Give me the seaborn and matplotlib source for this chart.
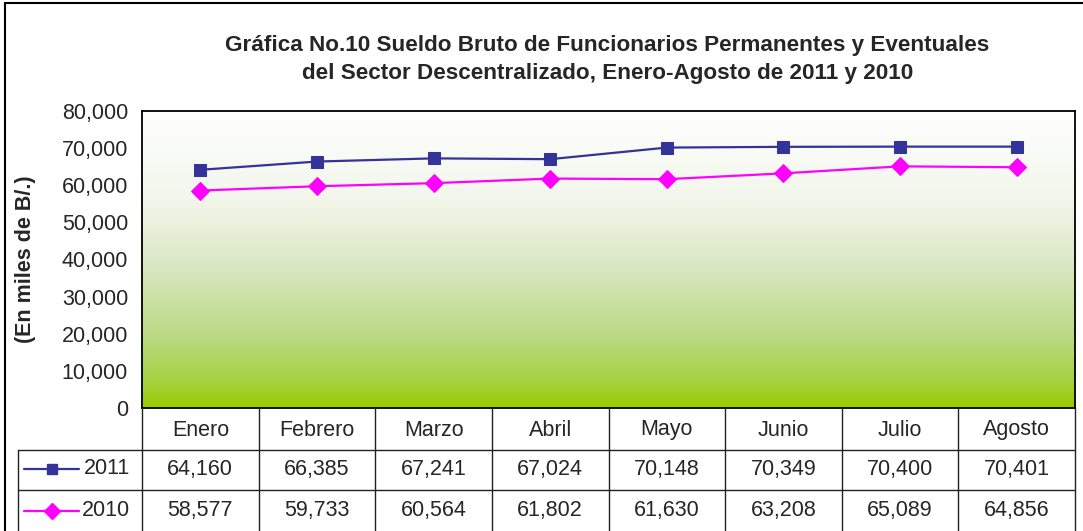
import numpy as np
import matplotlib
matplotlib.use("Agg")
import matplotlib.pyplot as plt
from matplotlib.colors import LinearSegmentedColormap
from matplotlib.lines import Line2D
from matplotlib.patches import Rectangle
import seaborn as sns

meses = ["Enero", "Febrero", "Marzo", "Abril", "Mayo", "Junio", "Julio", "Agosto"]
sueldo_2011 = [64160, 66385, 67241, 67024, 70148, 70349, 70400, 70401]
sueldo_2010 = [58577, 59733, 60564, 61802, 61630, 63208, 65089, 64856]
series = [("2011", sueldo_2011), ("2010", sueldo_2010)]
yticks = list(range(0, 80001, 10000))

sns.set_style("white")
plt.rcParams["font.family"] = ["Liberation Sans", "DejaVu Sans"]
FS = 15.5

W, H = 1083, 531
fig = plt.figure(figsize=(W / 100, H / 100), dpi=100)

def fx(px):
    return px / W

def fy(py):
    return 1 - py / H

# outer chart border
fig.patches.append(Rectangle((fx(5), fy(H + 10)), fx(W + 10), fy(3) - fy(H + 10),
                             transform=fig.transFigure, fill=False, lw=1.5,
                             edgecolor="black"))

left, right, top, bottom = 142, 1075, 111, 408
ax = fig.add_axes([fx(left), fy(bottom), fx(right - left), fy(top) - fy(bottom)])

x = np.arange(len(meses))
styles = {"2011": dict(color="#333399", marker="s", markersize=9, lw=1.6),
          "2010": dict(color="#FF00FF", marker="D", markersize=9.5, lw=1.6)}

# gradient background (white at top to yellow-green at bottom)
cmap = LinearSegmentedColormap.from_list("g", [
    (0.0, "#FFFFFF"), (0.3, "#F2F6EA"), (0.5, "#DCE9C8"),
    (0.75, "#BBDA86"), (0.9, "#A8D246"), (1.0, "#99CC00")])
grad = np.linspace(0, 1, 256).reshape(-1, 1)
ax.imshow(grad, extent=[-0.5, len(meses) - 0.5, 0, 80000], aspect="auto",
          cmap=cmap, origin="upper", zorder=0)

for name, vals in series:
    st = styles[name]
    sns.lineplot(x=x, y=vals, ax=ax, color=st["color"], marker=st["marker"],
                 markersize=st["markersize"], markeredgecolor=st["color"],
                 linewidth=st["lw"], zorder=3)

ax.set_xlim(-0.5, len(meses) - 0.5)
ax.set_ylim(0, 80000)
ax.set_yticks(yticks)
ax.set_yticklabels([f"{v:,}" for v in yticks], fontsize=FS)
ax.set_xticks([])
ax.tick_params(axis="y", direction="out", length=6, width=1, color="black", pad=4)
for s in ax.spines.values():
    s.set_color("black")
    s.set_linewidth(1.3)

ax.set_ylabel("(En miles de B/.)", fontsize=FS, fontweight="bold")
ax.yaxis.set_label_coords((36 - left) / (right - left), 0.5)

fig.text(fx(607), fy(45), "Gráfica No.10 Sueldo Bruto de Funcionarios Permanentes y Eventuales",
         ha="center", va="center", fontsize=16.2, fontweight="bold")
fig.text(fx(608), fy(73), "del Sector Descentralizado, Enero-Agosto de 2011 y 2010",
         ha="center", va="center", fontsize=16.2, fontweight="bold")

# data table
col_w = (right - left) / len(meses)
rows_y = [408, 450, 490, 533]
lc = "#222222"
def hline(y, x0, x1):
    fig.add_artist(Line2D([fx(x0), fx(x1)], [fy(y), fy(y)], color=lc, lw=1))
def vline(xp, y0, y1):
    fig.add_artist(Line2D([fx(xp), fx(xp)], [fy(y0), fy(y1)], color=lc, lw=1))

hline(450, 18, right)
hline(490, 18, right)
vline(18, 450, 533)
for i in range(len(meses) + 1):
    vline(left + i * col_w, 408, 533)

for i, m in enumerate(meses):
    cx = left + (i + 0.5) * col_w
    fig.text(fx(cx), fy(430), m, ha="center", va="center", fontsize=FS)
    for r, (name, vals) in enumerate(series):
        cy = (rows_y[r + 1] + rows_y[r + 2]) / 2 - 1
        fig.text(fx(cx), fy(cy), f"{vals[i]:,}", ha="center", va="center", fontsize=FS)

for r, (name, vals) in enumerate(series):
    st = styles[name]
    cy = (rows_y[r + 1] + rows_y[r + 2]) / 2 - 1
    fig.add_artist(Line2D([fx(24), fx(79)], [fy(cy), fy(cy)], color=st["color"],
                          lw=st["lw"]))
    fig.add_artist(Line2D([fx(51.5)], [fy(cy)], color=st["color"], marker=st["marker"],
                          markersize=st["markersize"] * 0.85,
                          markeredgecolor=st["color"], lw=0))
    fig.text(fx(130), fy(cy), name, ha="right", va="center", fontsize=FS)

fig.savefig("out.png", dpi=100)
